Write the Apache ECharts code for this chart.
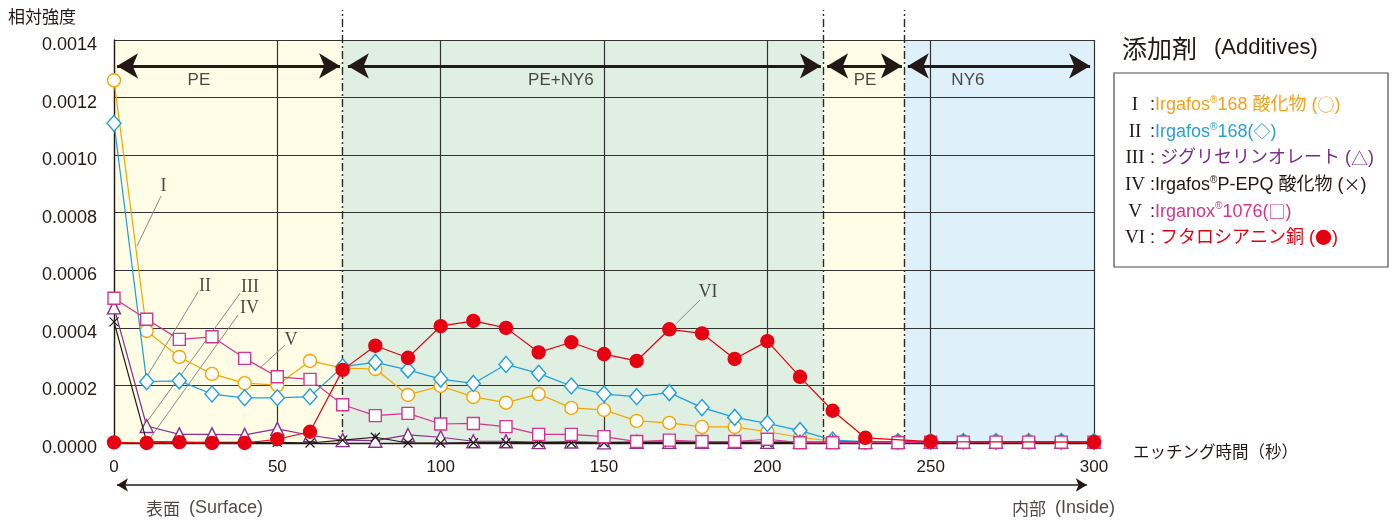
<!DOCTYPE html>
<html><head><meta charset="utf-8">
<script src="https://cdn.jsdelivr.net/npm/echarts@6/dist/echarts.min.js"></script>
<style>html,body{margin:0;padding:0;background:#fff}#c{width:1398px;height:520px}</style>
</head><body><div id="c"></div>
<script>
// ---------- data ----------
const times = [0,10,20,30,40,50,60,70,80,90,100,110,120,130,140,150,160,170,180,190,200,210,220,230,240,250,260,270,280,290,300];
const timesVI = [0,10,20,30,40,50,60,70,80,90,100,110,120,130,140,150,160,170,180,190,200,210,220,230,250,300];
const valuesI = [0.00126,0.000389,0.000299,0.00024,0.000208,0.000201,0.000285,0.00026,0.000257,0.000167,0.000198,0.00016,0.00014,0.00017,0.000122,0.000115,0.000077,0.00007,0.000056,0.000056,0.000039,0.00002,0.000006,0.000005,0.000005,0.000005,0.000005,0.000005,0.000005,0.000005,0.000005];
const valuesII = [0.001111,0.000213,0.000216,0.00017,0.000157,0.000157,0.000161,0.000265,0.00028,0.000254,0.000222,0.000207,0.000273,0.000242,0.000198,0.00017,0.000161,0.000175,0.000123,0.000089,0.000068,0.000043,0.00001,0.000005,0.000005,0.000005,0.000005,0.000005,0.000005,0.000005,0.000005];
const valuesIII = [0.000471,0.000059,0.00003,0.00003,0.000028,0.000049,0.000027,0.00001,0.000008,0.000028,0.00002,0.000006,0.000006,0.000003,0.000005,0.000002,0.000004,0.000004,0.000004,0.000004,0.000004,0.000004,0.000004,0.000004,0.000004,0.000004,0.000004,0.000004,0.000004,0.000004,0.000004];
const valuesIV = [0.000421,0.000005,0.000003,0.000002,0.000002,0.000002,0,0.00001,0.00002,0,0,0.000001,0.000001,0.000001,0.000001,0.000001,0.000001,0.000001,0.000001,0.000001,0.000001,0.000001,0.000001,0.000001,0.000001,0.000001,0.000001,0.000001,0.000001,0.000001,0.000001];
const valuesV = [0.000503,0.00043,0.00036,0.000369,0.000294,0.00023,0.000221,0.000133,0.000095,0.000103,0.000066,0.000068,0.000057,0.00003,0.00003,0.000022,0.000005,0.00001,0.000005,0.000005,0.000013,0.000001,0.000001,0.000001,0.000001,0.000003,0.000003,0.000003,0.000003,0.000003,0.000003];
const valuesVI = [0.000002,0,0.000003,0,0,0.000013,0.000039,0.000254,0.000338,0.000296,0.000406,0.000424,0.0004,0.000315,0.00035,0.000309,0.000285,0.000395,0.000381,0.000292,0.000354,0.00023,0.000112,0.000018,0.000005,0.000003];

const numerals = ['I','II','III','IV','V','VI'];
const seriesNames = ['Irgafos®168 酸化物','Irgafos®168','ジグリセリンオレート','Irgafos®P-EPQ 酸化物','Irganox®1076','フタロシアニン銅'];
// [text before ®, ®, text after ®, marker glyph, closing]
const legendParts = [
  ['Irgafos','®','168 酸化物 (','○',')'],
  ['Irgafos','®','168(','◇',')'],
  [' ジグリセリンオレート (','','','△',')'],
  ['Irgafos','®','P-EPQ 酸化物 (','×',')'],
  ['Irganox','®','1076(','□',')'],
  [' フタロシアニン銅 (','','','●',')']
];
const yTickStep = 0.0002, yMax = 0.0014, xTickStep = 50, xMax = 300;

// regions / annotations (data units)
const regionBounds = [0,70,217,242,300];
const regionNames = ['PE','PE+NY6','PE','NY6'];
const regionLabelX = [26,136.8,229.9,261.4];
const arrowTips = [[0.92,69.2],[71.6,216.4],[218.3,241.2],[243.0,298.8]];
const arrowY = 0.00131, regionLabelY = 0.00126, dashTop = 0.001504;
const romanLabelPos = [[15.15,0.000891],[27.85,0.000545],[41.6,0.000542],[41.5,0.000469],[54.2,0.000358],[181.8,0.000524]];
const leaderLines = [[14.4,0.000858,7.04,0.000684],[25.8,0.000526,10,0.00023],[38.6,0.00052,9.0,0.0000566],[38.0,0.000445,10,0],[52.3,0.00034,44.7,0.00026],[179.4,0.000497,172.2,0.000416]];
const bottomArrow = [0.92,297.8,-0.000146];
const surfaceText = ['表面','(Surface)',9.8,-0.000226];
const insideText = ['内部','(Inside)',306.4,-0.000226];

// ---------- style ----------
const lineColors = ['#f5a500','#1e9fdd','#8a2e8e','#231815','#d4358f','#e60012'];
const textColors = ['#f2a21a','#2a9fd8','#7d2b8b','#231815','#d4338f','#e50012'];
const regionColors = ['#fffde5','#dfefe1','#fffde5','#def0fa'];
const FONT = "'Liberation Sans','Noto Sans CJK JP',sans-serif";
const CJK = "'Noto Sans CJK JP',sans-serif";
const SERIF = "'Liberation Serif','DejaVu Serif',serif";
const INK = '#231815';

const W = 1398, H = 520;
const G = {left:114, right:304, top:40, bottom:77};
const pxPerX = (W - G.left - G.right) / xMax;
const pxPerY = (H - G.top - G.bottom) / yMax;
const ovX = [-G.left/pxPerX, xMax + G.right/pxPerX];
const ovY = [-G.bottom/pxPerY, yMax + G.top/pxPerY];

function pairs(xs, ys){ return xs.map((x,i)=>[x, ys[i]]); }

const symbols = [
  {symbol:'circle', size:13, fill:'#fff'},
  {symbol:'diamond', size:[14,16], fill:'#fff'},
  {symbol:'triangle', size:13, fill:'#fff'},
  {symbol:'path://M0,0L10,10M10,0L0,10', size:9, fill:'none'},
  {symbol:'rect', size:12, fill:'#fff'},
  {symbol:'circle', size:13, fill:lineColors[5]}
];
const allValues = [valuesI, valuesII, valuesIII, valuesIV, valuesV, valuesVI];
const allTimes = [times, times, times, times, times, timesVI];

const mainSeries = allValues.map((vals, i) => ({
  name: seriesNames[i],
  type: 'line',
  xAxisIndex: 0, yAxisIndex: 0,
  data: pairs(allTimes[i], vals),
  clip: false,
  symbol: symbols[i].symbol,
  symbolSize: symbols[i].size,
  showAllSymbol: true,
  z: 3 + i,
  lineStyle: {color: lineColors[i], width: 1.2},
  itemStyle: {color: symbols[i].fill, borderColor: lineColors[i], borderWidth: i===3 ? 1.2 : 1.4},
  emphasis: {disabled: true}
}));

mainSeries[0].markArea = {
  silent: true, z: -1,
  data: regionColors.map((c,i)=>[
    {xAxis: regionBounds[i], yAxis: 0, itemStyle:{color:c}},
    {xAxis: regionBounds[i+1], yAxis: yMax}
  ])
};

const ov = {xAxisIndex:1, yAxisIndex:1, type:'line', data:[], silent:true, symbol:'none'};

const dashSeries = Object.assign({}, ov, {
  name:'_dash',
  markLine: {
    silent:true, z:1, symbol:['none','none'], label:{show:false},
    lineStyle:{color:'#2b2b2b', width:1.4, type:[8,3,2,3]},
    data: regionBounds.slice(1,4).map(x=>[{coord:[x,0]},{coord:[x,dashTop]}])
  }
});

const arrowSeries = Object.assign({}, ov, {
  name:'_arrows',
  markLine: {
    silent:true, z:6, symbol:['arrow','arrow'], symbolSize:[19, 21], label:{show:false},
    lineStyle:{color:INK, width:3, type:'solid'},
    data: arrowTips.map(t=>[{coord:[t[0], arrowY]},{coord:[t[1], arrowY]}])
  }
});

const bottomArrowSeries = Object.assign({}, ov, {
  name:'_bottomArrow',
  markLine: {
    silent:true, z:6, symbol:['arrow','arrow'], symbolSize:[10, 11], label:{show:false},
    lineStyle:{color:INK, width:1.5, type:'solid'},
    data: [[{coord:[bottomArrow[0], bottomArrow[2]]},{coord:[bottomArrow[1], bottomArrow[2]]}]]
  }
});

const leaderSeries = Object.assign({}, ov, {
  name:'_leaders',
  markLine: {
    silent:true, z:1, symbol:['none','none'], label:{show:false},
    lineStyle:{color:'#8a8a8a', width:1, type:'solid'},
    data: leaderLines.map(l=>[{coord:[l[0],l[1]]},{coord:[l[2],l[3]]}])
  }
});

const edgeRich = {a:{fontFamily:CJK, fontSize:17, color:INK, lineHeight:22}, b:{fontFamily:FONT, fontSize:18, color:INK, padding:[0,0,0,9], lineHeight:22}};
const textItems = [];
regionNames.forEach((n,i)=>textItems.push({value:[regionLabelX[i], regionLabelY], label:{formatter:n, fontFamily:FONT, fontSize:17, color:INK}}));
numerals.forEach((n,i)=>textItems.push({value:romanLabelPos[i], label:{formatter:n, fontFamily:SERIF, fontSize:18, color:INK}}));
textItems.push({value:[surfaceText[2], surfaceText[3]], label:{formatter:'{a|'+surfaceText[0]+'}{b|'+surfaceText[1]+'}', rich:edgeRich, align:'left'}});
textItems.push({value:[insideText[2], insideText[3]], label:{formatter:'{a|'+insideText[0]+'}{b|'+insideText[1]+'}', rich:edgeRich, align:'right'}});

const textSeries = {
  name:'_texts', type:'scatter', xAxisIndex:1, yAxisIndex:1, silent:true,
  symbolSize:0, z:7,
  label:{show:true, position:'inside', verticalAlign:'middle'},
  data: textItems
};

// legend rich text
const rich = {
  r:{fontFamily:SERIF, fontSize:19, color:INK, width:30, align:'center', lineHeight:20},
  c:{fontFamily:FONT, fontSize:18, color:INK, lineHeight:20}
};
textColors.forEach((c,i)=>{
  rich['t'+i] = {fontFamily:FONT, fontSize:18, color:c, lineHeight:20};
  rich['s'+i] = {fontFamily:FONT, fontSize:10, color:c, lineHeight:12, verticalAlign:'top'};
  rich['g'+i] = {fontFamily:CJK, fontSize:17, color:c, lineHeight:20};
});
function legendLabel(name){
  const i = seriesNames.indexOf(name);
  const p = legendParts[i];
  let s = '{r|' + numerals[i] + '}{c|:}{t'+i+'|' + p[0] + '}';
  if (p[1]) s += '{s'+i+'|' + p[1] + '}{t'+i+'|' + p[2] + '}';
  s += '{g'+i+'|' + p[3] + '}{t'+i+'|' + p[4] + '}';
  return s;
}

const option = {
  animation:false,
  backgroundColor:'#fff',
  grid:[
    {left:G.left, right:G.right, top:G.top, bottom:G.bottom},
    {left:0, right:0, top:0, bottom:0}
  ],
  xAxis:[
    {type:'value', gridIndex:0, min:0, max:xMax, interval:xTickStep,
     axisLine:{show:true, onZero:false, lineStyle:{color:INK, width:1.3}},
     axisTick:{show:false},
     splitLine:{show:true, lineStyle:{color:'#333', width:1.2}},
     axisLabel:{fontFamily:FONT, fontSize:17, color:INK, margin:16},
     name:'{a|エッチング時間（秒）}', nameLocation:'end', nameGap:39,
     nameTextStyle:{align:'left', verticalAlign:'middle', rich:{a:{fontFamily:CJK, fontSize:16.5, color:INK, padding:[18,0,0,0]}}}
    },
    {type:'value', gridIndex:1, min:ovX[0], max:ovX[1], show:false}
  ],
  yAxis:[
    {type:'value', gridIndex:0, min:0, max:yMax, interval:yTickStep,
     axisLine:{show:true, lineStyle:{color:INK, width:1.3}},
     axisTick:{show:false},
     splitLine:{show:true, lineStyle:{color:'#333', width:1.2}},
     axisLabel:{margin:17, formatter:v=>'{a|'+v.toFixed(4)+'}',
       rich:{a:{fontFamily:FONT, fontSize:18, color:INK, padding:[10,0,0,0]}}}
    },
    {type:'value', gridIndex:1, min:ovY[0], max:ovY[1], show:false}
  ],
  legend:{
    data: seriesNames, orient:'vertical', left:1115, top:95, padding:0,
    icon:'none', itemWidth:0, itemHeight:14, itemGap:7.3,
    selectedMode:false,
    formatter: legendLabel,
    textStyle:{rich: rich, fontSize:18}
  },
  graphic:[
    {type:'text', x:8, y:17, style:{text:'相対強度', font:"17px 'Noto Sans CJK JP'", fill:INK, align:'left', verticalAlign:'middle'}},
    {type:'text', x:1122, y:48, style:{text:'{a|添加剤}{b|(Additives)}', align:'left', verticalAlign:'middle',
      rich:{a:{fontFamily:CJK, fontSize:25, fill:INK}, b:{fontFamily:FONT, fontSize:22, fill:INK, padding:[0,0,0,17]}}}},
    {type:'rect', shape:{x:1114, y:73, width:274, height:194}, style:{fill:'none', stroke:'#4d4d4d', lineWidth:1.2}}
  ],
  series: mainSeries.concat([dashSeries, arrowSeries, bottomArrowSeries, leaderSeries, textSeries])
};

const chart = echarts.init(document.getElementById('c'), null, {renderer:'canvas'});
chart.setOption(option);
</script>
</body></html>
